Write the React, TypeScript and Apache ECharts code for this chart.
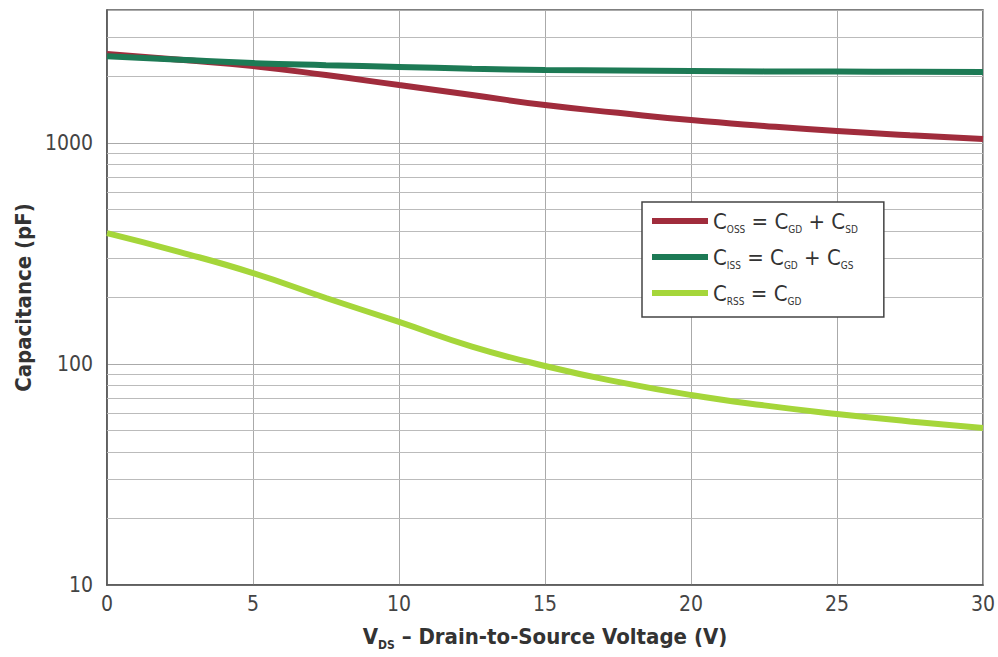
import React, { useEffect, useRef } from "react";
import * as echarts from "echarts";

const voltages = [0, 2.5, 5, 7.5, 10, 12.5, 15, 17.5, 20, 22.5, 25, 27.5, 30];
const cossValues = [2530, 2380, 2230, 2030, 1830, 1650, 1485, 1370, 1270, 1195, 1133, 1085, 1043];
const cissValues = [2470, 2380, 2300, 2250, 2210, 2170, 2140, 2130, 2120, 2110, 2105, 2100, 2095];
const crssValues = [391, 321, 258, 199, 155, 120, 98, 83, 72.4, 65, 59.4, 55, 51.3];
const minorGridValues = [
  20, 30, 40, 50, 60, 70, 80, 90,
  200, 300, 400, 500, 600, 700, 800, 900,
  2000, 3000,
];
const yTickLabels = [10, 100, 1000];
const seriesNames = ["Coss", "Ciss", "Crss"];
const legendTexts: Record<string, string> = {
  Coss: "{c|C}{s|OSS}{c| = C}{s|GD}{c| + C}{s|SD}",
  Ciss: "{c|C}{s|ISS}{c| = C}{s|GD}{c| + C}{s|GS}",
  Crss: "{c|C}{s|RSS}{c| = C}{s|GD}",
};

const FONT = '"Liberation Sans Narrow", "DejaVu Sans Condensed", "Roboto", sans-serif';

export default function App() {
  const ref = useRef<HTMLDivElement>(null);
  useEffect(() => {
    if (!ref.current) return;
    const chart = echarts.init(ref.current, undefined, { renderer: "svg" });
    const mk = (vals: number[]) => voltages.map((v, i) => [v, vals[i]]);
    chart.setOption({
      animation: false,
      backgroundColor: "#ffffff",
      grid: {
        left: 107,
        top: 10,
        right: 15,
        bottom: 72,
        show: true,
        borderColor: "#555",
        borderWidth: 1.5,
        backgroundColor: "transparent",
      },
      legend: {
        left: 642,
        top: 202,
        orient: "vertical",
        data: seriesNames,
        backgroundColor: "#ffffff",
        borderColor: "#444",
        borderWidth: 1.5,
        padding: [8, 26, 11, 10],
        itemGap: 12,
        itemWidth: 56,
        itemHeight: 6,
        icon: "rect",
        formatter: (name: string) => legendTexts[name],
        textStyle: {
          rich: {
            c: { fontSize: 22, fontFamily: FONT, color: "#333", lineHeight: 22, verticalAlign: "top" },
            s: { fontSize: 10, fontFamily: FONT, color: "#333", lineHeight: 12, padding: [14, 0, 0, 0], verticalAlign: "top" },
          },
        },
      },
      xAxis: {
        type: "value",
        min: 0,
        max: 30,
        interval: 5,
        name: "{v|V}{s|DS}{v| – Drain-to-Source Voltage (V)}",
        nameLocation: "middle",
        nameGap: 40,
        nameTextStyle: {
          rich: {
            v: { fontSize: 22, fontWeight: "bold", fontFamily: FONT, color: "#333", lineHeight: 24, verticalAlign: "top" },
            s: { fontSize: 12, fontWeight: "bold", fontFamily: FONT, color: "#333", lineHeight: 12, padding: [14, 0, 0, 0], verticalAlign: "top" },
          },
        },
        axisLine: { show: true, lineStyle: { color: "#555", width: 1.5 } },
        axisTick: { show: false },
        axisLabel: { fontSize: 21, fontFamily: FONT, color: "#444", margin: 8 },
        splitLine: { show: true, lineStyle: { color: "#aaa", width: 1 } },
      },
      yAxis: {
        type: "log",
        logBase: 10,
        min: 10,
        max: 4000,
        name: "Capacitance (pF)",
        nameLocation: "middle",
        nameGap: 62,
        nameTextStyle: { fontSize: 22, fontWeight: "bold", fontFamily: FONT, color: "#333" },
        axisLine: { show: true, lineStyle: { color: "#555", width: 1.5 } },
        axisTick: { show: false },
        axisLabel: {
          fontSize: 21,
          fontFamily: FONT,
          color: "#444",
          margin: 14,
          formatter: (v: number) => {
            const r = Math.round(v);
            return yTickLabels.includes(r) ? String(r) : "";
          },
        },
        splitLine: { show: true, lineStyle: { color: "#aaa", width: 1 } },
      },
      series: [
        {
          name: "Coss",
          type: "line",
          smooth: true,
          showSymbol: false,
          data: mk(cossValues),
          color: "#a02c3c",
          lineStyle: { width: 6, color: "#a02c3c" },
          z: 3,
          markLine: {
            silent: true,
            symbol: "none",
            label: { show: false },
            lineStyle: { color: "#bbb", width: 1, type: "solid" },
            data: minorGridValues.map((v) => ({ yAxis: v })),
            z: 1,
          },
        },
        {
          name: "Ciss",
          type: "line",
          smooth: true,
          showSymbol: false,
          data: mk(cissValues),
          color: "#1d7a55",
          lineStyle: { width: 6, color: "#1d7a55" },
          z: 4,
        },
        {
          name: "Crss",
          type: "line",
          smooth: true,
          showSymbol: false,
          data: mk(crssValues),
          color: "#a5d63a",
          lineStyle: { width: 6, color: "#a5d63a" },
          z: 3,
        },
      ],
    });
    return () => chart.dispose();
  }, []);
  return <div ref={ref} style={{ width: 998, height: 657, position: "absolute", left: 0, top: 0 }} />;
}
